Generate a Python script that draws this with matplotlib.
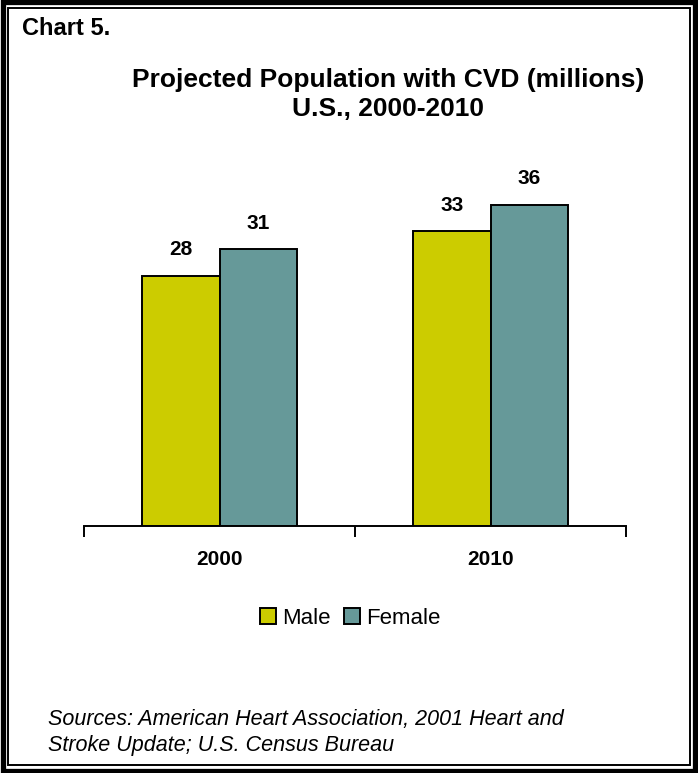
import matplotlib
matplotlib.use('Agg')

import matplotlib.pyplot as plt
from matplotlib.patches import Rectangle
import numpy as np

plt.rcParams['font.family'] = ['Liberation Sans', 'DejaVu Sans']

# data
years = ['2000', '2010']
male = [28, 33]
female = [31, 36]
series_names = ['Male', 'Female']
male_color = '#CCCC00'
female_color = '#669999'

W, H = 698, 773
fig = plt.figure(figsize=(W / 100, H / 100), dpi=100)

# double border round the page
fig.patches.append(Rectangle((0.0036, 0.0032), 0.9928, 0.9936, transform=fig.transFigure,
                             fill=False, edgecolor='black', linewidth=3.8))
fig.patches.append(Rectangle((0.0115, 0.0105), 0.977, 0.979, transform=fig.transFigure,
                             fill=False, edgecolor='black', linewidth=1.4))

fig.text(22 / W, 1 - 35 / H, 'Chart 5.', fontsize=17, fontweight='bold',
         ha='left', va='baseline')
fig.text(388 / W, 1 - 87 / H, 'Projected Population with CVD (millions)',
         fontsize=19, fontweight='bold', ha='center', va='baseline')
fig.text(388 / W, 1 - 116 / H, 'U.S., 2000-2010',
         fontsize=19, fontweight='bold', ha='center', va='baseline')

ax = fig.add_axes([84 / W, 1 - 526 / H, 542 / W, 357 / H])
x = np.arange(len(years))
w = 0.286
b1 = ax.bar(x - w / 2, male, w, color=male_color, edgecolor='black', linewidth=1.4,
            label=series_names[0], zorder=2)
b2 = ax.bar(x + w / 2, female, w, color=female_color, edgecolor='black', linewidth=1.4,
            label=series_names[1], zorder=2)
for bars in (b1, b2):
    ax.bar_label(bars, padding=12, fontsize=15, fontweight='bold')

ax.set_xlim(-0.5, 1.5)
ax.set_ylim(0, 40)
ax.set_yticks([])
for s in ('left', 'right', 'top'):
    ax.spines[s].set_visible(False)
ax.spines['bottom'].set_linewidth(1.4)
ax.set_xticks([-0.5, 0.5, 1.5])
ax.set_xticklabels([])
ax.set_xticks(x, minor=True)
ax.set_xticklabels(years, minor=True, fontsize=15, fontweight='bold')
ax.tick_params(axis='x', which='major', direction='out', length=8, width=1.4)
ax.tick_params(axis='x', which='minor', length=0, pad=17)

fig.legend(loc='center', bbox_to_anchor=(350 / W, 1 - 618 / H), ncol=2, frameon=False,
           fontsize=16, handlelength=0.75, handleheight=0.75, handletextpad=0.25,
           columnspacing=0.6)

fig.text(48 / W, 1 - 720 / H, 'Sources: American Heart Association, 2001 Heart and',
         fontsize=15.5, style='italic', ha='left', va='center')
fig.text(48 / W, 1 - 745 / H, 'Stroke Update; U.S. Census Bureau',
         fontsize=15.5, style='italic', ha='left', va='center')

fig.savefig('out.png', dpi=100)
